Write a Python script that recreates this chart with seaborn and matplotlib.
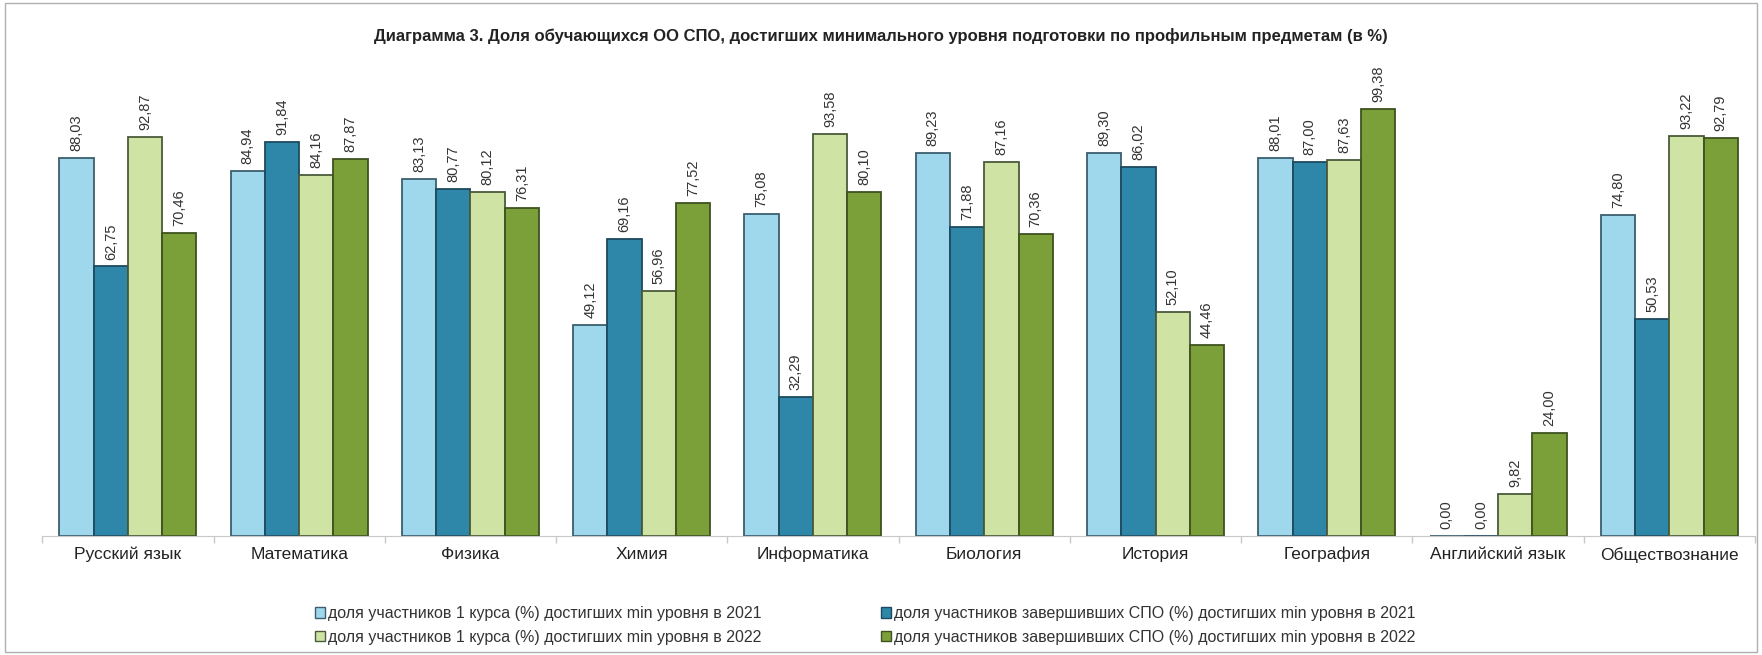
import matplotlib
matplotlib.use("Agg")
import matplotlib.pyplot as plt
import matplotlib.patches as mpatches
import pandas as pd
import numpy as np
import seaborn as sns

subjects = ["Русский язык", "Математика", "Физика", "Химия", "Информатика",
            "Биология", "История", "География", "Английский язык", "Обществознание"]
series_names = [
    "доля участников 1 курса (%) достигших min уровня в 2021",
    "доля участников завершивших СПО (%) достигших min уровня в 2021",
    "доля участников 1 курса (%) достигших min уровня в 2022",
    "доля участников завершивших СПО (%) достигших min уровня в 2022",
]
first_2021 = [88.03, 84.94, 83.13, 49.12, 75.08, 89.23, 89.30, 88.01, 0.00, 74.80]
grad_2021 = [62.75, 91.84, 80.77, 69.16, 32.29, 71.88, 86.02, 87.00, 0.00, 50.53]
first_2022 = [92.87, 84.16, 80.12, 56.96, 93.58, 87.16, 52.10, 87.63, 9.82, 93.22]
grad_2022 = [70.46, 87.87, 76.31, 77.52, 80.10, 70.36, 44.46, 99.38, 24.00, 92.79]

colors = ["#9fd7ec", "#2e86a9", "#cfe4a4", "#7b9f39"]
edges = ["#3b5f6e", "#1d4a5e", "#4a5a3a", "#3f5220"]

rows = []
for name, vals in zip(series_names, [first_2021, grad_2021, first_2022, grad_2022]):
    for subj, v in zip(subjects, vals):
        rows.append({"subject": subj, "series": name, "value": v})
df = pd.DataFrame(rows)

sns.set_style("white")
plt.rcParams['font.family'] = ['Liberation Sans', 'DejaVu Sans']

fig = plt.figure(figsize=(17.62, 6.55), dpi=100)
ax = fig.add_axes([0.024, 0.182, 0.972, 0.688])

sns.barplot(data=df, x="subject", y="value", hue="series", order=subjects,
            hue_order=series_names, palette=colors, width=0.8, saturation=1,
            ax=ax, errorbar=None, legend=False)

for cont, ec in zip(ax.containers, edges):
    for p in cont:
        p.set_edgecolor(ec)
        p.set_linewidth(1.3)
    labels = [f"{v:.2f}".replace(".", ",") for v in cont.datavalues]
    ax.bar_label(cont, labels=labels, rotation=90, padding=5, fontsize=10.5, color="#333333")

ax.set_ylim(0, 105)
ax.set_xlim(-0.5, len(subjects) - 0.5)
ax.set_yticks([])
ax.set_xlabel("")
ax.set_ylabel("")
for s in ["left", "top", "right"]:
    ax.spines[s].set_visible(False)
ax.spines["bottom"].set_color("#c8c8c8")
ax.tick_params(axis="x", which="major", bottom=False, length=0, labelsize=12.5, pad=8,
               colors="#222222")
ax.set_xticks(np.arange(len(subjects) + 1) - 0.5, minor=True)
ax.tick_params(axis="x", which="minor", bottom=True, length=5, width=1, color="#c8c8c8")

fig.text(0.5, 0.945, "Диаграмма 3. Доля обучающихся ОО СПО, достигших минимального уровня подготовки по профильным предметам (в %)",
         ha="center", va="center", fontsize=12, fontweight="bold", color="#222222")

handles = [mpatches.Patch(facecolor=c, edgecolor=e, linewidth=1) for c, e in zip(colors, edges)]
order = [0, 2, 1, 3]
fig.legend([handles[i] for i in order], [series_names[i] for i in order],
           loc="center", bbox_to_anchor=(0.491, 0.045), ncol=2, frameon=False,
           fontsize=11.5, handlelength=0.6, handleheight=0.6, handletextpad=0.2,
           columnspacing=7.5, labelspacing=0.55, labelcolor="#333333")

border = mpatches.Rectangle((0.003, 0.005), 0.994, 0.99, transform=fig.transFigure,
                            fill=False, edgecolor="#b0b0b0", linewidth=1)
fig.add_artist(border)

fig.savefig("out.png", dpi=100, facecolor="white")
